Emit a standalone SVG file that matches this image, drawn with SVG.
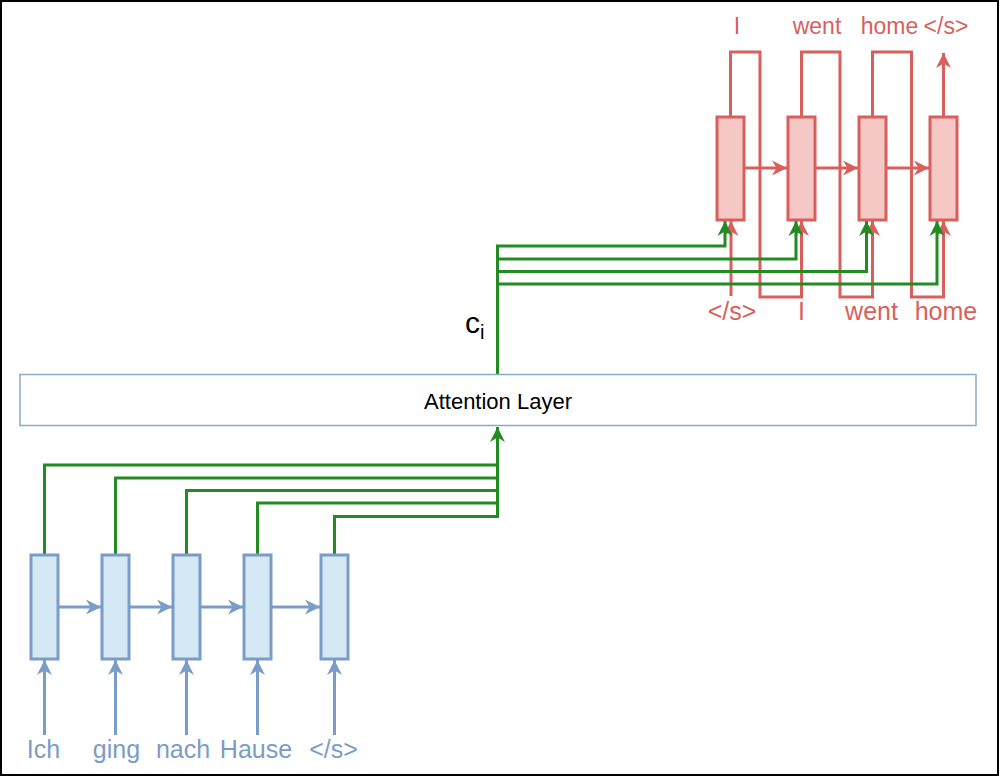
<svg xmlns="http://www.w3.org/2000/svg" width="1000" height="777" viewBox="0 0 1000 777">
<style>
.red{fill:none;stroke:#d95f5c;stroke-width:3}
.blue{fill:none;stroke:#7b9cc6;stroke-width:3}
.green{fill:none;stroke:#228b22;stroke-width:3}
.rbox{fill:#f6c8c5;stroke:#d95f5c;stroke-width:3}
.bbox{fill:#d5e9f5;stroke:#7b9cc6;stroke-width:3}
.rt{font-family:"Liberation Sans",Arial,sans-serif;fill:#d95f5c;text-anchor:middle}
.bt{font-family:"Liberation Sans",Arial,sans-serif;fill:#7b9cc6;text-anchor:middle;font-size:25px}
.kt{font-family:"Liberation Sans",Arial,sans-serif;fill:#000}
</style>
<defs>
<marker id="ar" markerUnits="userSpaceOnUse" markerWidth="16" markerHeight="16" refX="15" refY="8" orient="auto" viewBox="0 0 16 16"><path d="M0,0.5 L15,8 L0,15.5 L4.5,8 z" fill="#d95f5c"/></marker>
<marker id="ab" markerUnits="userSpaceOnUse" markerWidth="16" markerHeight="16" refX="15" refY="8" orient="auto" viewBox="0 0 16 16"><path d="M0,0.5 L15,8 L0,15.5 L4.5,8 z" fill="#7b9cc6"/></marker>
<marker id="ag" markerUnits="userSpaceOnUse" markerWidth="16" markerHeight="16" refX="15" refY="8" orient="auto" viewBox="0 0 16 16"><path d="M0,0.5 L15,8 L0,15.5 L4.5,8 z" fill="#228b22"/></marker>
</defs>
<rect x="1" y="1" width="997" height="774" fill="#fff" stroke="#000" stroke-width="2"/>

<g id="connectors">
  <path class="red" d="M730.5,117 V52 H760 V297 H801.5 V221" marker-end="url(#ar)"/>
  <path class="red" d="M801.5,117 V52 H840 V297 H872.5 V221" marker-end="url(#ar)"/>
  <path class="red" d="M872.5,117 V52 H911.5 V297 H943.5 V221" marker-end="url(#ar)"/>
  <path class="red" d="M943.5,117 V53" marker-end="url(#ar)"/>
  <path class="red" d="M731,296 V221" marker-end="url(#ar)"/>
  <path class="red" d="M744,168 H787" marker-end="url(#ar)"/>
  <path class="red" d="M815,168 H858" marker-end="url(#ar)"/>
  <path class="red" d="M886,168 H929" marker-end="url(#ar)"/>
  <path class="blue" d="M58,607 H101" marker-end="url(#ab)"/>
  <path class="blue" d="M129,607 H172" marker-end="url(#ab)"/>
  <path class="blue" d="M200,607 H243" marker-end="url(#ab)"/>
  <path class="blue" d="M271,607 H320" marker-end="url(#ab)"/>
  <path class="blue" d="M44.5,735 V660" marker-end="url(#ab)"/>
  <path class="blue" d="M115.5,735 V660" marker-end="url(#ab)"/>
  <path class="blue" d="M186.5,735 V660" marker-end="url(#ab)"/>
  <path class="blue" d="M257.5,735 V660" marker-end="url(#ab)"/>
  <path class="blue" d="M334.5,735 V660" marker-end="url(#ab)"/>
  <path class="green" d="M44.5,555 V465 H497.5"/>
  <path class="green" d="M115.5,555 V478 H497.5"/>
  <path class="green" d="M186.5,555 V490.5 H497.5"/>
  <path class="green" d="M257.5,555 V503 H497.5"/>
  <path class="green" d="M334.5,555 V516.5 H497.5 V427" marker-end="url(#ag)"/>
  <path class="green" d="M497.5,374 V246 H725 V221" marker-end="url(#ag)"/>
  <path class="green" d="M497.5,259 H796 V221" marker-end="url(#ag)"/>
  <path class="green" d="M497.5,271.5 H866.5 V221" marker-end="url(#ag)"/>
  <path class="green" d="M497.5,284 H937 V221" marker-end="url(#ag)"/>
</g>

<g id="dec1"><rect class="rbox" x="717" y="117" width="27" height="103"/></g>
<g id="dec2"><rect class="rbox" x="788" y="117" width="27" height="103"/></g>
<g id="dec3"><rect class="rbox" x="859" y="117" width="27" height="103"/></g>
<g id="dec4"><rect class="rbox" x="930" y="117" width="27" height="103"/></g>

<g id="enc1"><rect class="bbox" x="31" y="555" width="27" height="104"/></g>
<g id="enc2"><rect class="bbox" x="102" y="555" width="27" height="104"/></g>
<g id="enc3"><rect class="bbox" x="173" y="555" width="27" height="104"/></g>
<g id="enc4"><rect class="bbox" x="244" y="555" width="27" height="104"/></g>
<g id="enc5"><rect class="bbox" x="321" y="555" width="27" height="104"/></g>

<g id="attention">
  <rect x="20" y="374.5" width="956" height="51" fill="#fff" stroke="#8aaac6" stroke-width="1.5"/>
  <text class="kt" x="498" y="408.5" font-size="22" text-anchor="middle">Attention Layer</text>
</g>

<g id="ci"><text class="kt" x="465" y="333" font-size="30">c<tspan font-size="20" dy="6">i</tspan></text></g>

<g id="out-labels">
  <text class="rt" x="737" y="34" font-size="23">I</text>
  <text class="rt" x="817" y="34" font-size="23">went</text>
  <text class="rt" x="889.5" y="34" font-size="23">home</text>
  <text class="rt" x="946" y="34" font-size="23">&lt;/s&gt;</text>
</g>
<g id="in-labels">
  <text class="rt" x="732" y="320" font-size="25">&lt;/s&gt;</text>
  <text class="rt" x="801.5" y="320" font-size="25">I</text>
  <text class="rt" x="871.5" y="320" font-size="25">went</text>
  <text class="rt" x="946" y="320" font-size="25">home</text>
</g>
<g id="src-labels">
  <text class="bt" x="43.5" y="758">Ich</text>
  <text class="bt" x="116.5" y="758">ging</text>
  <text class="bt" x="183" y="758">nach</text>
  <text class="bt" x="256" y="758">Hause</text>
  <text class="bt" x="333.5" y="758">&lt;/s&gt;</text>
</g>
</svg>
